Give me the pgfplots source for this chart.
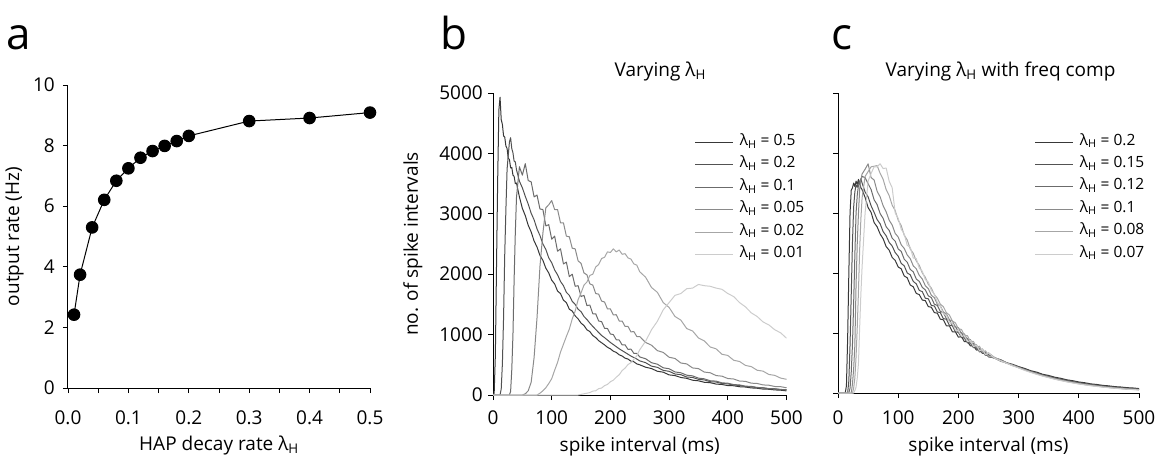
\documentclass[border=0pt]{standalone}
\usepackage{fontspec}
\setmainfont{Open Sans}
\usepackage{pgfplots}
\usepackage{pgfplotstable}
\pgfplotsset{compat=1.18}

\pgfplotsset{
  panel/.style={
    scale only axis,
    axis lines*=left,
    axis line style={line width=1pt, black},
    tick align=outside,
    major tick length=5pt,
    minor tick length=5pt,
    every tick/.style={black, line width=0.8pt},
    tick label style={font=\fontsize{19}{22}\selectfont, black, inner sep=0pt},
    label style={font=\fontsize{19}{22}\selectfont},
    /pgf/number format/assume math mode=true,
    /pgf/number format/set thousands separator={},
    scaled ticks=false,
  },
  hist/.style={line width=1pt, line join=round},
  leg/.style={
    legend cell align=left,
    legend image code/.code={\draw[##1] (0pt,0pt) -- (38pt,0pt);},
    legend style={draw=none, fill=none, inner sep=0pt, outer sep=0pt,
      anchor=north west, row sep=8.4pt,
      nodes={inner sep=1pt, text height=9pt, text depth=3pt, font=\fontsize{15.5}{17}\selectfont},
      /tikz/every odd column/.append style={column sep=5pt}},
  },
}

\pgfplotstableread{
x L5 L2 L1 L05 L02 L01
0 0 0 0 0 0 0
2 30 0 0 0 0 0
4 650 0 0 0 0 0
6 2150 0 0 0 0 0
8 3580 0 0 0 0 0
10 4720 0 0 0 0 0
12 4930 0 0 0 0 0
14 4560 100 0 0 0 0
16 4480 520 0 0 0 0
18 4290 1280 0 0 0 0
20 4270 2330 0 0 0 0
22 4120 3080 0 0 0 0
24 4080 3740 0 0 0 0
26 3920 3970 0 0 0 0
28 3900 4190 0 0 0 0
30 3760 4260 60 0 0 0
32 3770 4080 420 0 0 0
34 3640 4010 1000 0 0 0
36 3620 3870 1920 0 0 0
38 3500 3860 2680 0 0 0
40 3510 3730 3270 0 0 0
45 3280 3540 3780 0 0 0
50 3090 3430 3640 0 0 0
55 2970 3290 3830 20 0 0
60 2810 3160 3550 70 0 0
65 2700 3010 3530 210 0 0
70 2550 2900 3280 620 0 0
75 2450 2750 3310 1280 0 0
80 2310 2640 3080 2130 30 0
85 2230 2500 3070 2680 70 0
90 2100 2410 2800 3100 120 0
95 2020 2270 2820 3150 190 0
100 1900 2190 2580 3220 270 0
105 1840 2070 2630 3070 410 0
110 1720 1990 2380 3070 540 0
115 1680 1880 2420 2850 710 0
120 1570 1810 2170 2850 840 0
125 1530 1700 2200 2630 970 0
130 1420 1650 1960 2620 1090 0
135 1390 1550 2000 2430 1260 0
140 1310 1500 1800 2420 1390 0
145 1260 1420 1810 2220 1580 0
150 1190 1380 1630 2180 1690 10
155 1150 1300 1650 2020 1820 20
160 1080 1250 1480 1990 1870 30
165 1050 1190 1490 1840 1980 40
170 985 1135 1345 1820 2000 65
175 950 1085 1345 1680 2120 70
180 900 1035 1225 1670 2160 105
185 865 985 1215 1555 2260 115
190 830 950 1105 1540 2280 155
195 790 910 1100 1425 2370 175
200 765 870 1010 1425 2360 220
205 725 835 1000 1325 2420 245
210 705 800 915 1330 2370 295
215 665 765 910 1225 2400 335
220 645 735 830 1225 2330 405
225 610 705 830 1135 2340 445
230 595 675 755 1135 2270 505
235 560 645 760 1045 2250 535
240 550 620 690 1050 2170 590
245 515 595 690 968 2150 650
250 500 565 630 968 2040 750
260 460 535 600 870 1950 890
270 438 478 535 825 1780 1080
280 393 458 510 735 1700 1220
290 378 408 450 705 1530 1410
300 333 392 435 625 1450 1530
310 322 348 382 605 1300 1650
320 290 337 368 530 1240 1680
330 276 298 328 515 1100 1760
340 245 291 317 448 1060 1770
350 235 259 279 437 945 1830
360 211 250 268 380 895 1810
370 204 220 236 368 795 1800
380 181 215 230 322 765 1770
390 174 190 201 312 675 1750
400 156 185 196 273 655 1680
410 153 164 172 265 575 1630
420 137 159 167 231 555 1530
430 132 140 146 226 490 1460
440 117 136 143 196 470 1360
450 112 120 125 191 410 1300
460 98 117 121 167 395 1210
470 95 103 106 162 340 1160
480 84 100 104 141 325 1080
490 80 89 92 138 280 1030
500 68 86 88 120 260 940
}\tabB

\pgfplotstableread{
x C2 C15 C12 C1 C08 C07
0 0 0 0 0 0 0
2 0 0 0 0 0 0
4 0 0 0 0 0 0
6 0 0 0 0 0 0
8 0 0 0 0 0 0
10 0 0 0 0 0 0
12 0 0 0 0 0 0
14 120 0 0 0 0 0
16 900 0 0 0 0 0
18 2000 200 0 0 0 0
20 3000 800 80 0 0 0
22 3380 1650 350 0 0 0
24 3420 2500 800 150 0 0
26 3500 3100 1500 400 80 0
28 3440 3350 2300 800 250 40
30 3530 3470 3000 1800 600 100
32 3480 3430 3300 2500 1100 250
34 3560 3520 3460 3000 1700 500
36 3500 3480 3520 3400 2400 1100
38 3420 3570 3560 3550 2900 1650
40 3390 3500 3610 3650 3250 2100
45 3260 3350 3590 3730 3610 3000
50 3090 3270 3490 3820 3690 3530
55 3010 3120 3390 3590 3770 3660
60 2840 3010 3220 3550 3780 3770
65 2770 2890 3140 3360 3790 3770
70 2650 2820 2990 3270 3660 3820
75 2570 2690 2910 3120 3560 3740
80 2440 2620 2770 3020 3390 3750
85 2380 2510 2710 2880 3290 3530
90 2260 2450 2580 2800 3130 3420
95 2210 2340 2530 2660 3040 3000
100 2100 2280 2400 2600 2880 2910
105 2070 2160 2360 2470 2790 2730
110 1950 2120 2230 2410 2630 2650
115 1920 2000 2180 2300 2550 2460
120 1800 1970 2060 2240 2400 2430
125 1770 1860 2020 2120 2330 2250
130 1660 1820 1900 2070 2200 2240
135 1640 1710 1860 1960 2130 2080
140 1550 1690 1760 1900 2000 2030
145 1540 1580 1720 1790 1930 1890
150 1440 1570 1620 1740 1810 1850
155 1430 1460 1590 1630 1750 1710
160 1340 1450 1480 1590 1640 1650
165 1330 1350 1460 1480 1580 1510
170 1230 1340 1360 1450 1480 1450
175 1220 1240 1340 1350 1440 1320
180 1120 1230 1240 1320 1340 1300
185 1120 1130 1220 1220 1300 1180
190 1020 1120 1120 1200 1200 1160
195 1020 1020 1110 1100 1170 1050
200 930 1010 1010 1090 1070 1040
205 940 925 1005 990 1060 945
210 855 915 910 985 960 955
215 855 835 910 885 955 855
220 785 830 820 890 860 875
225 785 755 825 790 860 770
230 715 760 735 805 765 800
235 725 685 750 710 780 700
240 660 695 665 735 680 730
245 670 625 685 640 705 635
250 605 640 605 670 615 670
260 585 580 585 590 595 580
270 555 530 545 540 548 535
280 505 500 498 502 500 495
290 478 462 468 458 466 452
300 440 432 425 428 420 418
310 410 392 395 385 386 376
320 372 362 354 356 347 344
330 348 328 330 318 320 310
340 312 303 292 294 284 282
350 292 274 272 263 261 255
360 264 252 241 241 232 230
370 245 228 224 215 213 206
380 220 209 198 197 189 187
390 205 189 184 175 173 167
400 184 173 162 160 153 151
410 171 156 150 143 139 136
420 152 143 133 131 124 122
430 142 128 123 116 114 109
440 127 118 108 106 101 98
450 119 105 100 93 91 88
460 106 97 88 86 81 79
470 100 86 82 76 73 71
480 89 80 72 69 65 63
490 84 71 67 62 59 57
500 74 66 59 56 53 51
}\tabC

\begin{document}
\begin{tikzpicture}
\useasboundingbox (0pt,0pt) rectangle (1157pt,-468pt);

% panel letters
\node[anchor=base west, font=\fontsize{44}{50}\selectfont, inner sep=0pt] at (6pt,-49.5pt) {a};
\node[anchor=base west, font=\fontsize{44}{50}\selectfont, inner sep=0pt] at (440pt,-49.5pt) {b};
\node[anchor=base west, font=\fontsize{44}{50}\selectfont, inner sep=0pt] at (831pt,-49.5pt) {c};

% ---------------- panel a
\begin{axis}[panel,
  at={(68pt,-388pt)}, anchor=south west,
  width=302pt, height=303pt,
  xmin=0, xmax=0.5, ymin=0, ymax=10,
  xtick={0,0.1,0.2,0.3,0.4,0.5},
  xticklabels={0.0,0.1,0.2,0.3,0.4,0.5},
  minor x tick num=1,
  ytick={0,2,4,6,8,10},
  xticklabel style={anchor=base, yshift=-31pt},
  yticklabel style={anchor=east, xshift=-8pt},
  xlabel={HAP decay rate λ\textsubscript{H}},
  xlabel style={at={(axis description cs:0.5,0)}, anchor=base, yshift=-62pt},
  ylabel={output rate (Hz)},
  ylabel style={at={(axis description cs:-0.177,0.5)}, anchor=center},
  clip=false,
]
\addplot[black, line width=1pt, mark=*, mark size=5.8pt, mark options={fill=black}] coordinates {
(0.01,2.42) (0.02,3.74) (0.04,5.30) (0.06,6.21) (0.08,6.84) (0.10,7.25)
(0.12,7.60) (0.14,7.82) (0.16,7.99) (0.18,8.15) (0.20,8.32) (0.30,8.81)
(0.40,8.91) (0.50,9.09)};
\end{axis}

% ---------------- panel b
\begin{axis}[panel, leg,
  at={(493pt,-395pt)}, anchor=south west,
  width=293.5pt, height=302pt,
  xmin=0, xmax=500, ymin=0, ymax=5000,
  xtick={0,100,200,300,400,500},
  ytick={0,1000,2000,3000,4000,5000},
  xticklabel style={anchor=base, yshift=-24pt},
  yticklabel style={anchor=east, xshift=-5pt},
  xlabel={spike interval (ms)},
  xlabel style={at={(axis description cs:0.5,0)}, anchor=base, yshift=-56pt},
  ylabel={no. of spike intervals},
  ylabel style={at={(axis description cs:-0.2726,0.5)}, anchor=center},
  title={Varying λ\textsubscript{H}},
  title style={at={(axis description cs:0.57,1)}, anchor=base, yshift=11pt, font=\fontsize{19}{22}\selectfont},
  legend style={at={(axis description cs:0.688,0.859)}},
]
\addplot[hist, black!78] table[x=x, y=L5] {\tabB};
\addplot[hist, black!68] table[x=x, y=L2] {\tabB};
\addplot[hist, black!58] table[x=x, y=L1] {\tabB};
\addplot[hist, black!46] table[x=x, y=L05] {\tabB};
\addplot[hist, black!35] table[x=x, y=L02] {\tabB};
\addplot[hist, black!20] table[x=x, y=L01] {\tabB};
\legend{λ\textsubscript{H} = 0.5, λ\textsubscript{H} = 0.2, λ\textsubscript{H} = 0.1, λ\textsubscript{H} = 0.05, λ\textsubscript{H} = 0.02, λ\textsubscript{H} = 0.01}
\end{axis}

% ---------------- panel c
\begin{axis}[panel, leg,
  at={(838pt,-393pt)}, anchor=south west,
  width=301pt, height=300pt,
  xmin=0, xmax=500, ymin=0, ymax=5000,
  xtick={0,100,200,300,400,500},
  ytick={0,1000,2000,3000,4000,5000},
  yticklabels={},
  xticklabel style={anchor=base, yshift=-26pt},
  xlabel={spike interval (ms)},
  xlabel style={at={(axis description cs:0.5,0)}, anchor=base, yshift=-58pt},
  title={Varying λ\textsubscript{H} with freq comp},
  title style={at={(axis description cs:0.54,1)}, anchor=base, yshift=11pt, font=\fontsize{19}{22}\selectfont},
  legend style={at={(axis description cs:0.654,0.86)}},
]
\addplot[hist, black!78] table[x=x, y=C2] {\tabC};
\addplot[hist, black!68] table[x=x, y=C15] {\tabC};
\addplot[hist, black!58] table[x=x, y=C12] {\tabC};
\addplot[hist, black!46] table[x=x, y=C1] {\tabC};
\addplot[hist, black!35] table[x=x, y=C08] {\tabC};
\addplot[hist, black!20] table[x=x, y=C07] {\tabC};
\legend{λ\textsubscript{H} = 0.2, λ\textsubscript{H} = 0.15, λ\textsubscript{H} = 0.12, λ\textsubscript{H} = 0.1, λ\textsubscript{H} = 0.08, λ\textsubscript{H} = 0.07}
\end{axis}
\end{tikzpicture}
\end{document}
